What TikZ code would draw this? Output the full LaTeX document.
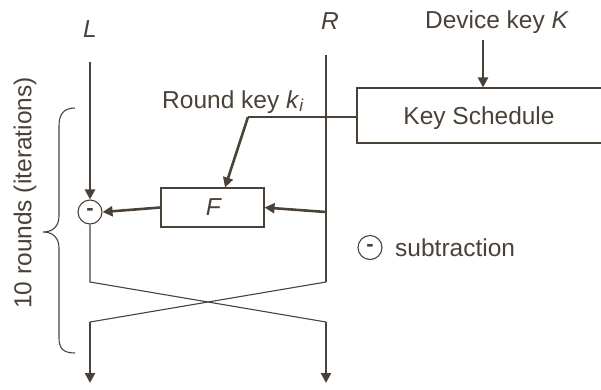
\documentclass[tikz,border=0pt]{standalone}
\usepackage{fontspec}
\setmainfont{Liberation Sans}
\usetikzlibrary{arrows.meta}
\definecolor{ink}{RGB}{74,66,56}
\begin{document}
\begin{tikzpicture}[x=1pt,y=-1pt,
  every node/.style={text=ink,font=\fontsize{24.5}{29}\selectfont,inner sep=0pt},
  thin line/.style={draw=ink,line width=1.1pt},
  thick arrow/.style={draw=ink,line width=2.6pt,-{Triangle[length=10pt,width=10pt]}},
  boxst/.style={draw=ink,line width=1.1pt,rectangle},
  subst/.style={draw=ink,line width=1.1pt,circle,minimum size=24pt,font=\fontsize{22}{24}\selectfont\bfseries}]
\useasboundingbox (0,0) rectangle (601,389);
% labels
\node (L) at (90,29.5) {\textit{L}};
\node (R) at (330,21.5) {\textit{R}};
\node[anchor=base] (dev) at (497,28) {Device key \textit{K}};
\node[anchor=base west] (rk) at (162,108) {Round key \textit{k}\textsubscript{\textit{i}}};
\node[rotate=90] (rounds) at (25,193) {10 rounds (iterations)};
% boxes
\node[boxst,minimum width=245pt,minimum height=55pt] (ks) at (479.5,115.5) {};
\node[anchor=base] (kstext) at (479,124) {Key Schedule};
\node[boxst,minimum width=103pt,minimum height=39pt] (F) at (212.5,207.5) {};
\node (Ftext) at (214,207.5) {\textit{F}};
\node[subst] (sub) at (90,212) {-};
% coordinates
\coordinate (Ltop) at (90,62);
\coordinate (Rtop) at (326,55);
\coordinate (Rmid) at (326,212);
\coordinate (Rbot) at (326,282);
\coordinate (Lbot) at (90,282);
\coordinate (Lx) at (90,322);
\coordinate (Rx) at (326,322);
\coordinate (Lout) at (90,383);
\coordinate (Rout) at (326,383);
\coordinate (devtop) at (483,40);
\coordinate (bend) at (248,117);
\coordinate (kslft) at (357,117);
% connectors
\draw[thick arrow] (Ltop) -- (sub.north);
\draw[thin line] (Rtop) -- (Rbot);
\draw[thick arrow] (Rmid) -- (F.east);
\draw[thick arrow] (F.west) -- (sub.east);
\draw[thin line] (sub.south) -- (Lbot) -- (Rx);
\draw[thin line] (Rbot) -- (Lx);
\draw[thick arrow] (Lx) -- (Lout);
\draw[thick arrow] (Rx) -- (Rout);
\draw[thick arrow] (devtop) -- (devtop |- ks.north);
\draw[thin line] (kslft) -- (bend);
\draw[thick arrow] (bend) -- ([xshift=12.5pt]F.north);
% brace
\draw[thin line] (75,108) .. controls (63,108) and (59,115) .. (59,126) -- (59,216)
  .. controls (59,226) and (53,232) .. (43,232)
  .. controls (53,232) and (59,238) .. (59,248) -- (59,338)
  .. controls (59,348) and (63,353) .. (75,353);
% legend
\node[subst] (leg) at (370,247.5) {-};
\node[anchor=base west] (legtext) at (395,256) {subtraction};
\end{tikzpicture}
\end{document}
